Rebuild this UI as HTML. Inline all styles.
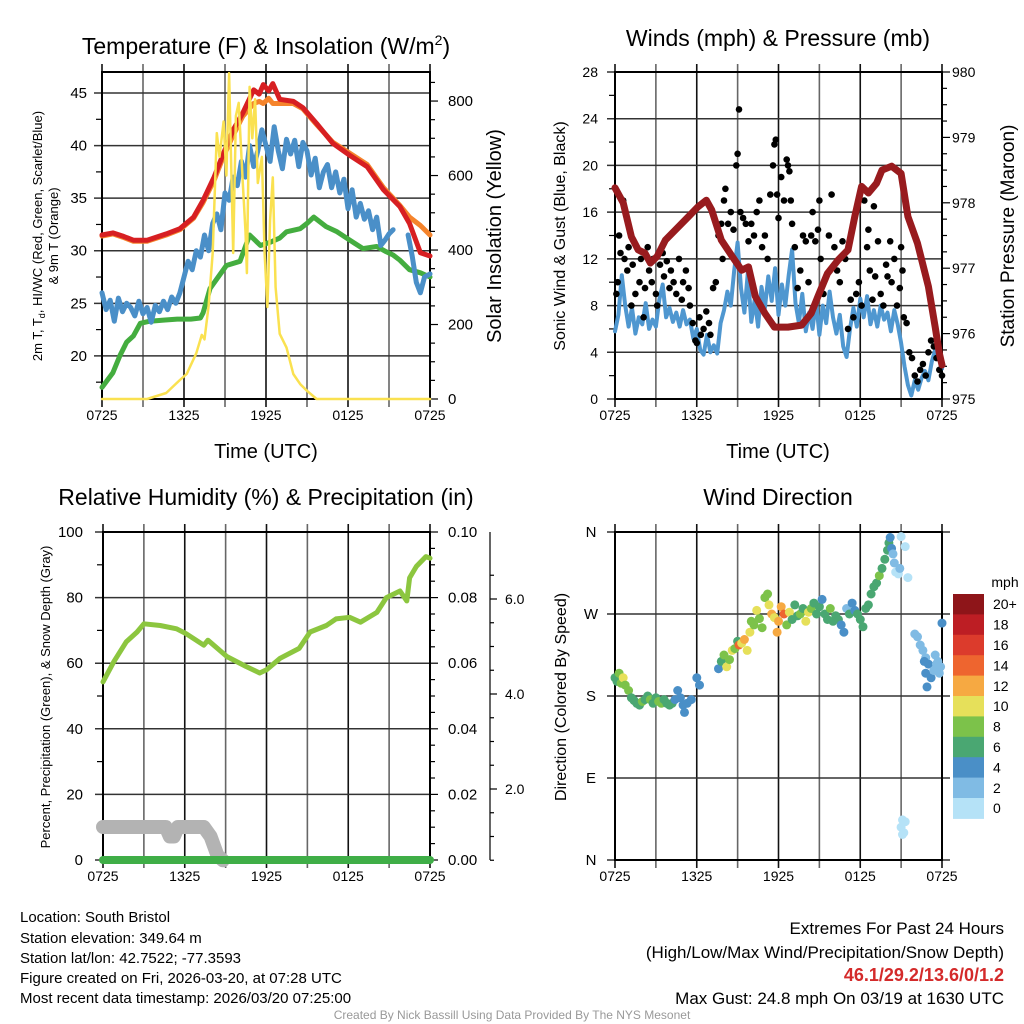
<!DOCTYPE html>
<html><head><meta charset="utf-8">
<style>
html,body{margin:0;padding:0;background:#fff;}
svg{display:block;font-family:"Liberation Sans",Arial,sans-serif;}
</style></head>
<body>
<svg id="chart" xmlns="http://www.w3.org/2000/svg" width="1024" height="1024" viewBox="0 0 1024 1024">
<rect x="0" y="0" width="1024" height="1024" fill="#fff"/>
<!-- titles -->
<text x="266" y="54" font-size="23" text-anchor="middle">Temperature (F) &amp; Insolation (W/m<tspan dy="-9" font-size="14">2</tspan><tspan dy="9">)</tspan></text>
<text x="778" y="46" font-size="23" text-anchor="middle">Winds (mph) &amp; Pressure (mb)</text>
<text x="266" y="505" font-size="23" text-anchor="middle">Relative Humidity (%) &amp; Precipitation (in)</text>
<text x="778" y="505" font-size="23" text-anchor="middle">Wind Direction</text>
<!-- axis titles -->
<text x="266" y="458" font-size="20" text-anchor="middle">Time (UTC)</text>
<text x="778" y="458" font-size="20" text-anchor="middle">Time (UTC)</text>
<text transform="translate(42,236) rotate(-90)" font-size="13" text-anchor="middle">2m T, T<tspan dy="3" font-size="9">d</tspan><tspan dy="-3">, HI/WC (Red, Green, Scarlet/Blue)</tspan></text>
<text transform="translate(58,236) rotate(-90)" font-size="13" text-anchor="middle">&amp; 9m T (Orange)</text>
<text transform="translate(501,236) rotate(-90)" font-size="20" text-anchor="middle">Solar Insolation (Yellow)</text>
<text transform="translate(565,236) rotate(-90)" font-size="16" text-anchor="middle">Sonic Wind &amp; Gust (Blue, Black)</text>
<text transform="translate(1014,236) rotate(-90)" font-size="19" text-anchor="middle">Station Pressure (Maroon)</text>
<text transform="translate(50,697) rotate(-90)" font-size="13" text-anchor="middle">Percent, Precipitation (Green), &amp; Snow Depth (Gray)</text>
<text transform="translate(566,697) rotate(-90)" font-size="16" text-anchor="middle">Direction (Colored By Speed)</text>
<text x="1005" y="587" font-size="14" text-anchor="middle">mph</text>
<!-- footer texts -->
<g font-size="15" fill="#000">
<text x="20" y="922">Location: South Bristol</text>
<text x="20" y="943">Station elevation: 349.64 m</text>
<text x="20" y="963">Station lat/lon: 42.7522; -77.3593</text>
<text x="20" y="983">Figure created on Fri, 2026-03-20, at 07:28 UTC</text>
<text x="20" y="1003">Most recent data timestamp: 2026/03/20 07:25:00</text>
</g>
<g font-size="17" text-anchor="end">
<text x="1004" y="934">Extremes For Past 24 Hours</text>
<text x="1004" y="958">(High/Low/Max Wind/Precipitation/Snow Depth)</text>
<text x="1004" y="981" fill="#d42a2a" font-weight="bold" font-size="18">46.1/29.2/13.6/0/1.2</text>
<text x="1004" y="1004">Max Gust: 24.8 mph On 03/19 at 1630 UTC</text>
</g>
<text x="512" y="1019" font-size="12" fill="#999" text-anchor="middle">Created By Nick Bassill Using Data Provided By The NYS Mesonet</text>
</svg>
<script>
// ---------- data (hours after 0725 UTC) ----------
const xTickLabels = ["0725","1325","1925","0125","0725"];
const tempTicks = [20,25,30,35,40,45];
const insolTicks = [0,200,400,600,800];
const windTicks = [0,4,8,12,16,20,24,28];
const pressTicks = [975,976,977,978,979,980];
const rhTicks = [0,20,40,60,80,100];
const precipTickLabels = ["0.00","0.02","0.04","0.06","0.08","0.10"];
const snowTicks = [2,4,6];
const dirTickLabels = ["N","E","S","W","N"];
const speedBins = ["0","2","4","6","8","10","12","14","16","18","20+"];

const redT = [0,0.8,1.5,2.3,3.3,4.7,5.7,6.7,7.4,8.2,8.9,9.6,10.3,11.1,11.5,11.8,12.2,12.5,13,14,14.7,15.7,16.9,18.1,19.4,20.6,21.8,22.5,23.3,24];
const redV = [31.5,31.7,31.4,31.0,31.0,31.6,32.1,33.2,34.8,37.0,39.3,41.5,43.1,45.3,44.9,45.8,45.2,45.9,44.4,44.2,43.6,42.1,40.2,39.1,38.0,35.8,34.2,32.6,29.8,29.5];
const orangeV = [31.4,31.6,31.3,30.9,30.9,31.5,32.0,33.1,34.6,36.7,39.0,41.0,42.8,44.0,44.2,44.0,44.5,44.0,44.0,44.0,43.5,42.0,40.3,39.3,38.2,36.0,34.3,33.2,32.4,31.5];
const greenT = [0,0.8,1.3,1.8,2.3,2.8,3.5,4.5,5.5,6.5,7.2,7.4,7.9,8.5,9.1,10.1,10.8,11.6,12.3,13.0,13.5,14.5,15.0,15.5,16.4,17.2,17.9,18.5,19.1,20.1,20.8,21.3,21.8,22.5,23.3,24];
const greenV = [17.0,18.4,20.0,21.3,21.9,23.1,23.3,23.4,23.5,23.5,23.6,24.1,26.4,27.5,28.6,29.0,31.5,30.5,30.8,31.2,31.8,32.1,32.6,33.2,32.3,31.8,31.2,30.7,30.2,30.4,29.9,29.6,29.1,28.2,27.9,27.5];
const dewStep = 0.3;
const dewV = [26.0,24.4,25.3,23.3,25.5,24.2,25.0,24.6,23.8,25.2,24.0,24.6,23.2,24.8,24.2,25.2,24.4,25.6,25.0,26.0,27.5,29.0,28.2,30.0,29.4,31.5,30.0,32.6,33.5,32.0,35.5,34.8,37.0,36.2,38.5,37.0,40.0,38.0,39.5,41.5,40.0,38.5,41.8,39.5,37.8,40.6,39.2,40.5,38.0,40.3,39.5,37.2,38.8,36.0,37.5,38.2,36.0,37.5,35.5,36.8,34.0,35.8,33.2,34.5,33.0,33.8,32.0,33.2,30.5,31.0,31.6,32.0];
const dew2T = [22.4,22.7,23.0,23.3,23.6,24];
const dew2V = [31.5,29.5,27.0,26.0,27.5,27.8];
const insolT = [0,3.3,4.7,5.7,6.2,6.9,7.3,7.5,7.8,8.1,8.4,8.6,8.9,9.1,9.3,9.6,9.8,10.0,10.3,10.5,10.6,10.8,11.0,11.2,11.4,11.7,11.9,12.1,12.3,12.5,12.7,13.0,13.5,14.0,14.5,15.0,15.7,24];
const insolV = [0,0,16,51,67,123,172,160,250,392,714,650,745,600,875,392,760,795,580,450,338,838,700,805,580,650,392,247,480,595,300,175,138,67,40,22,0,0];

const windStep = 0.25;
const windV = [5.8,7.2,10.6,8.0,6.2, 7.8,5.6,7.0,6.4, 8.2,6.0,6.8,6.2, 8.5,9.8,7.0,7.8, 6.6,7.4,6.2,7.6, 6.4,6.8,5.2,6.0, 4.2,3.8,5.5,4.0, 4.6,3.9,6.5,7.6, 9.2,8.0,11.0,13.4, 9.5,7.4,10.8,6.6, 8.5,6.2,9.6,7.8, 10.5,8.4,11.2,7.2, 9.8,8.0,10.6,12.8, 8.2,6.5,9.0,5.8, 7.4,6.0,8.4,5.5, 8.0,6.5,9.2,7.0, 5.6,7.2,4.5,3.6, 6.0,7.8,6.2,8.6, 7.0,8.8,6.4,7.6, 6.2,8.0,6.8,7.4, 5.8,7.6,6.4,4.8, 2.8,1.2,0.3,1.6, 0.8,1.8,2.4,1.6, 3.2,4.2,3.6,2.6];
const pressT = [0,0.6,1.2,1.7,2.2,2.6,3.1,3.7,4.4,5.4,6.1,6.7,7.1,7.8,8.6,9.3,9.8,10.3,11,11.7,12.7,13.7,14.4,14.9,15.6,16.4,17.1,17.6,18.1,18.6,19.2,19.6,20.3,21,21.5,22.2,23,23.5,23.8,24];
const pressV = [978.23,978.0,977.48,977.28,977.23,977.08,977.18,977.43,977.58,977.79,977.94,978.04,977.89,977.43,977.18,976.97,977.02,976.57,976.31,976.1,976.1,976.13,976.31,976.57,976.92,977.13,977.28,977.79,978.25,978.15,978.3,978.5,978.56,978.45,977.79,977.38,976.72,976.1,975.7,975.52];
const gustT = [0.1,0.2,0.3,0.4,0.6,0.7,0.9,1.0,1.2,1.3,1.5,1.6,1.8,1.9,2.1,2.2,2.4,2.5,2.7,2.8,3.0,3.1,3.3,3.5,3.6,3.8,4.0,4.1,4.3,4.5,4.7,4.9,5.0,5.2,5.4,5.5,5.7,5.9,6.0,6.2,6.3,6.5,6.7,6.9,7.0,7.2,7.4,7.6,7.8,7.9,8.0,8.1,8.3,8.5,8.7,8.9,9.0,9.1,9.2,9.4,9.6,9.8,10.0,10.2,10.4,10.6,10.8,11.0,11.2,11.4,11.6,11.7,11.8,11.9,12.0,12.2,12.4,12.6,12.7,12.8,12.9,13.0,13.2,13.4,13.6,13.8,14.0,14.2,14.4,14.5,14.7,14.9,15.0,15.1,15.3,15.5,15.7,15.9,16.1,16.3,16.5,16.7,16.9,17.1,17.3,17.5,17.7,17.9,18.1,18.3,18.5,18.6,18.7,18.9,19.0,19.1,19.3,19.5,19.7,19.9,20.0,20.2,20.3,20.5,20.7,20.9,21.0,21.1,21.2,21.4,21.6,21.8,22.0,22.2,22.4,22.6,22.8,23.0,23.2,23.4,23.6,23.8,24.0];
const gustV = [9,10,14,12.5,17,12,11,13,8,11.5,9,13,10,12,7,9.5,13,11,10,12,9,8,11.5,12.5,10.5,11.8,9.5,11,10,9,12,8.5,10,11,9.5,8,6.5,5,4.8,7,5.5,6,7.5,6.5,5.5,9.5,10,14,15,12,17,18,15,16,14.5,20,21,24.8,16,15.5,15,13.5,15,14,16,17,13,14,12,17.5,20,21.8,22.2,17.5,15.5,19,17,20.5,20,19.5,17,15,13,9.5,11,14,13.5,10,14,16,13.5,14.5,17,12,9,10.5,14,17.5,13,11,10,13.5,12,6,8.5,7,9,10,8,17,13,14.5,11,8.5,16.5,10.5,13.5,9,8,11.5,10.5,13.5,10,12,8,9.5,13,11,7,6.5,4,3.5,2,1.5,2.5,3,2,4,5,4.5,3.5,2.5,2];

const rhT = [0,0.8,1.7,2.5,3,4.2,5.4,6.1,7.4,7.7,9.1,10.5,11.5,12,13,14.4,15.2,16.4,17.1,18.1,18.9,20.1,20.8,21.8,22.3,22.5,23,23.7,24];
const rhV = [54.3,60.5,66.5,69.5,72,71.5,70.5,69,65.5,67,62,59,57,58,61.5,64.5,69.5,71.5,73.5,74,72.5,75.5,80,82,79,86,89.5,92.5,92];
const snowT = [0,4.6,4.9,5.2,5.5,7.4,7.9,8.4,8.8];
const snowV = [1.2,1.2,1.0,1.0,1.2,1.2,1.0,0.6,0.5];
const precipT = [0,24];
const precipV = [0,0];

const dirT = [0,0.15,0.3,0.45,0.6,0.75,1.0,1.2,1.4,1.6,1.8,2.0,2.2,2.4,2.6,2.8,3.0,3.2,3.4,3.6,3.8,4.0,4.2,4.4,4.6,4.8,5.0,5.1,5.3,5.6,6.0,6.2,7.6,7.8,8.0,8.2,8.4,8.6,8.8,9.0,9.1,9.3,9.5,9.7,9.9,10.0,10.2,10.4,10.6,10.8,11.0,11.2,11.3,11.5,11.7,11.9,12.0,12.2,12.4,12.6,12.8,13.0,13.2,13.4,13.6,13.8,14.0,14.2,14.4,14.6,14.8,15.0,15.2,15.4,15.6,15.8,16.0,16.2,16.4,16.6,16.8,17.0,17.2,17.4,17.6,17.8,18.0,18.2,18.4,18.6,18.8,19.0,19.2,19.4,19.6,19.8,20.0,20.1,20.2,20.3,20.4,20.5,20.6,20.8,21.0,21.3,20.9,21.5,21.1,21.3,21.0,21.2,21.1,22.0,22.2,22.4,22.6,22.8,23.0,22.8,23.2,22.9,23.5,23.7,23.9,23.4,23.6,24.0,23.8,22.7];
const dirV = [200,196,205,194,200,192,186,178,175,172,170,174,176,180,176,172,178,174,172,176,172,170,172,176,186,178,170,162,172,176,200,192,210,218,225,212,220,230,232,240,236,238,242,230,250,262,258,274,265,255,288,292,280,270,266,250,262,278,270,258,272,264,280,268,270,276,262,272,276,282,270,278,286,270,264,276,262,268,264,258,250,276,270,282,274,270,264,256,276,280,292,300,304,312,320,330,340,348,354,342,336,326,316,314,355,344,320,310,44,42,36,30,28,248,245,236,230,222,215,205,200,190,225,218,212,208,215,260,205,218];
const dirS = [7,6,8,9,10,8,8,7,6,7,6,8,7,7,8,6,7,8,8,7,6,7,6,5,4,4,5,4,5,5,4,4,4,7,9,10,8,10,9,7,15,10,12,11,10,8,9,10,8,9,8,8,10,12,10,12,12,12,14,8,10,6,7,6,8,7,10,10,8,7,6,6,4,7,6,8,6,6,6,4,4,3,6,4,4,7,6,6,7,6,6,7,6,8,6,6,6,6,4,4,2,2,1,1,1,1,2,1,1,1,1,1,0,2,2,2,2,3,4,4,4,4,2,2,3,2,2,4,3,4];
const speedColors = ["#b5e2f7","#80bbe4","#4a8fc7","#4aa772","#7cc24a","#e6e05a","#f6a942","#ee652f","#dc3b2c","#bd1e24","#8e1519"];

// ---------- helpers ----------
const NS = "http://www.w3.org/2000/svg";
const svg = document.getElementById("chart");
function mk(tag, attrs, parent){const e=document.createElementNS(NS,tag);for(const k in attrs)e.setAttribute(k,attrs[k]);(parent||svg).appendChild(e);return e;}
function lin(d0,d1,r0,r1){return v=>r0+(v-d0)/(d1-d0)*(r1-r0);}
function pathD(ts,vs,sx,sy){let d="";const n=Math.min(ts.length,vs.length);for(let i=0;i<n;i++){d+=(i?"L":"M")+sx(ts[i]).toFixed(1)+","+sy(vs[i]).toFixed(1);}return d;}
function seq(step,n){const a=[];for(let i=0;i<n;i++)a.push(i*step);return a;}

function frame(name,L,T,R,B,sx,hVals,sy,extR){
  const g=mk("g",{});
  
  
  for(let h=0;h<=24;h+=3){
    const x=sx(h);
    const ln=mk("line",{x1:x,y1:T-8,x2:x,y2:B+8,stroke:(h%6===0)?"#111":"#666","stroke-width":1.6},g);
    
    
  }
  hVals.forEach(v=>{
    const y=sy(v);
    const ln=mk("line",{x1:L-8,y1:y,x2:R+(extR||0),y2:y,stroke:"#333","stroke-width":1.5},g);
    
    
  });
  const box=mk("rect",{x:L,y:T,width:R-L,height:B-T,fill:"none",stroke:"#000","stroke-width":2},g);
  
  
  xTickLabels.forEach((lab,i)=>{
    const t=mk("text",{x:sx(i*6),y:B+21,"font-size":14,"text-anchor":"middle"},g);
    t.textContent=lab;
    
    
  });
  return g;
}
function label(txt,x,y,anchor,size,name){
  const t=mk("text",{x:x,y:y+5,"font-size":size||14,"text-anchor":anchor});
  t.textContent=txt;
  
  
  return t;
}
function tick(x1,y1,x2,y2,name){
  const l=mk("line",{x1:x1,y1:y1,x2:x2,y2:y2,stroke:"#000","stroke-width":1.2});
  
  
}
function series(ts,vs,sx,sy,color,w,name){
  const p=mk("path",{d:pathD(ts,vs,sx,sy),fill:"none",stroke:color,"stroke-width":w,"stroke-linejoin":"round","stroke-linecap":"round"});
  
  
  return p;
}

// ---------- Panel 1: temperature ----------
const X1=lin(0,24,102,430), Y1=lin(15.9,47.0,399,72), I1=lin(0,878,399,72);
frame("temperature",102,72,430,399,X1,tempTicks,Y1,0);
tempTicks.forEach(v=>label(String(v),87,Y1(v),"end",15,"temperature-y-tick-label"));
for(let v=17.5;v<47;v+=5) tick(96,Y1(v),102,Y1(v),"temperature-minor-tick");
insolTicks.forEach(v=>{tick(430,I1(v),438,I1(v),"insolation-major-tick");label(String(v),448,I1(v),"start",15,"insolation-y-tick-label");});
for(let v=50;v<878;v+=50) if(v%200) tick(430,I1(v),435,I1(v),"insolation-minor-tick");
series(greenT,greenV,X1,Y1,"#44ad3f",5,"hi-wc-line");
series(seq(dewStep,dewV.length),dewV,X1,Y1,"#4a8fc8",5,"dewpoint-line");
series(dew2T,dew2V,X1,Y1,"#4a8fc8",5,"dewpoint-line-late");
series(redT,orangeV,X1,Y1,"#f5842c",5,"9m-temperature-line");
series(redT,redV,X1,Y1,"#d71f22",5,"2m-temperature-line");
series(insolT,insolV,X1,I1,"#fae150",2.5,"solar-insolation-line");

// ---------- Panel 2: winds ----------
const X2=lin(0,24,615,942), W2=lin(0,28,399,72), P2=lin(975,980,399,72);
frame("winds",615,72,942,399,X2,windTicks,W2,0);
windTicks.forEach(v=>label(String(v),598,W2(v),"end",14,"wind-y-tick-label"));
for(let v=2;v<28;v+=4) tick(609,W2(v),615,W2(v),"wind-minor-tick");
pressTicks.forEach(v=>{tick(942,P2(v),950,P2(v),"pressure-major-tick");label(String(v),952,P2(v),"start",14,"pressure-y-tick-label");});
for(let v=975.25;v<980;v+=0.25) if(Math.abs(v-Math.round(v))>0.01) tick(942,P2(v),947,P2(v),"pressure-minor-tick");
series(seq(windStep,windV.length),windV,X2,W2,"#4f97d0",4,"sonic-wind-line");
gustT.forEach((t,i)=>{
  const c=mk("circle",{cx:X2(t).toFixed(1),cy:W2(gustV[i]).toFixed(1),r:3.3,fill:"#000"});
  
  
});
series(pressT,pressV,X2,P2,"#981b1e",7,"station-pressure-line");

// ---------- Panel 3: humidity ----------
const X3=lin(0,24,103,430), R3=lin(0,100,860,532), S3=lin(0,6,884,599);
frame("humidity",103,532,430,860,X3,rhTicks,R3,0);
rhTicks.forEach(v=>label(String(v),83,R3(v),"end",15,"humidity-y-tick-label"));
for(let v=10;v<100;v+=20) tick(97,R3(v),103,R3(v),"humidity-minor-tick");
precipTickLabels.forEach((lab,i)=>{tick(430,R3(i*20),438,R3(i*20),"precip-major-tick");label(lab,448,R3(i*20),"start",15,"precip-y-tick-label");});
for(let v=5;v<100;v+=5) if(v%20) tick(430,R3(v),435,R3(v),"precip-minor-tick");
tick(490,532,490,860,"snow-depth-axis-line");
snowTicks.forEach(v=>{tick(490,S3(v),497,S3(v),"snow-major-tick");label(v.toFixed(1),505,S3(v),"start",14,"snow-y-tick-label");});
for(let v=0.5;v<6.9;v+=0.5) if(Math.abs(v%2)>0.01 && S3(v)>532) tick(490,S3(v),494,S3(v),"snow-minor-tick");
series(snowT,snowV,X3,S3,"#b3b3b3",14,"snow-depth-line");
series(precipT,precipV,X3,R3,"#3fae47",8,"precipitation-line");
series(rhT,rhV,X3,R3,"#8cc63f",5,"relative-humidity-line");

// ---------- Panel 4: wind direction ----------
const X4=lin(0,24,615,942), D4=lin(0,360,860,532);
frame("direction",615,532,942,860,X4,[0,90,180,270,360],D4,8);
dirTickLabels.forEach((lab,i)=>label(lab,591,D4(i*90),"middle",15,"direction-y-tick-label"));
dirT.forEach((t,i)=>{
  const k=Math.min(10,Math.floor(dirS[i]/2));
  const c=mk("circle",{cx:X4(t).toFixed(1),cy:D4(dirV[i]).toFixed(1),r:4.5,fill:speedColors[k]});
  
  
});
const cbTop=594, cbH=20.4;
speedBins.forEach((lab,i)=>{
  const j=speedBins.length-1-i;
  const r=mk("rect",{x:953,y:cbTop+i*cbH,width:31,height:cbH+0.5,fill:speedColors[j]});
  
  
  label(speedBins[j],993,cbTop+i*cbH+cbH/2,"start",14,"colorbar-label");
});
</script>
</body></html>
